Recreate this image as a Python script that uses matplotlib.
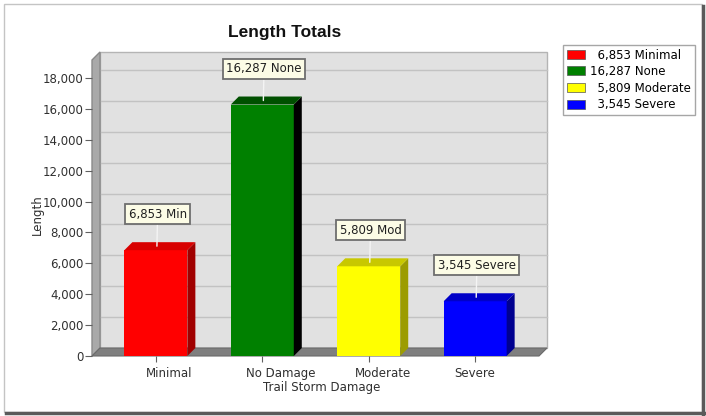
import numpy as np
import matplotlib.pyplot as plt
from matplotlib.patches import Rectangle, Polygon, Patch
from matplotlib.lines import Line2D
import matplotlib.ticker as mticker
from matplotlib.transforms import ScaledTranslation

categories = ['Minimal', 'No Damage', 'Moderate', 'Severe']
lengths = [6853, 16287, 5809, 3545]
box_labels = ['6,853 Min', '16,287 None', '5,809 Mod', '3,545 Severe']
legend_labels = ['  6,853 Minimal', '16,287 None', '  5,809 Moderate', '  3,545 Severe']
yticks = np.arange(0, 18001, 2000)

front_col = ['#ff0000', '#008000', '#ffff00', '#0000ff']
side_col = ['#a00000', '#000000', '#9c9c00', '#000090']
top_col = ['#d80000', '#005000', '#c8c800', '#0000c8']

plt.rcParams['font.family'] = ['DejaVu Sans']

W, H = 706, 416
fig = plt.figure(figsize=(W / 100, H / 100), dpi=100)

# front plane of the 3d box (pixels)
px_l, px_r, px_b, px_t = 92, 539, 356, 60
ax = fig.add_axes([px_l / W, 1 - px_b / H, (px_r - px_l) / W, (px_b - px_t) / H])
xmin, xmax = -0.6, 3.6
ymax = 19170
ax.set_xlim(xmin, xmax)
ax.set_ylim(0, ymax)

# depth of the fake 3d, in data units
d_px = 8
dx = d_px * (xmax - xmin) / (px_r - px_l)
dy = d_px * ymax / (px_b - px_t)

# back wall + grid
ax.add_patch(Rectangle((xmin + dx, dy), xmax - xmin, ymax, facecolor='#e1e1e1',
                       edgecolor='#b4b4b4', lw=1, clip_on=False, zorder=0))
for v in yticks[1:]:
    ax.plot([xmin + dx, xmax + dx], [v + dy, v + dy], color='#c2c2c2', lw=1,
            clip_on=False, zorder=0.5)

# left wall and floor
ax.add_patch(Polygon([(xmin, 0), (xmin + dx, dy), (xmin + dx, ymax + dy), (xmin, ymax)],
                     closed=True, facecolor='#a9a9a9', edgecolor='#8a8a8a', lw=1,
                     clip_on=False, zorder=1))
ax.add_patch(Polygon([(xmin, 0), (xmax, 0), (xmax + dx, dy), (xmin + dx, dy)],
                     closed=True, facecolor='#7f7f7f', edgecolor='#6a6a6a', lw=0.8,
                     clip_on=False, zorder=1))

x = np.arange(len(categories))
bw = 0.592
ax.bar(x, lengths, width=bw, color=front_col, zorder=3)
for xi, v, sc, tc in zip(x, lengths, side_col, top_col):
    r = xi + bw / 2
    l = xi - bw / 2
    ax.add_patch(Polygon([(r, 0), (r + dx, dy), (r + dx, v + dy), (r, v)],
                         closed=True, facecolor=sc, edgecolor='none', zorder=3, clip_on=False))
    ax.add_patch(Polygon([(l, v), (r, v), (r + dx, v + dy), (l + dx, v + dy)],
                         closed=True, facecolor=tc, edgecolor='none', zorder=3, clip_on=False))

# value boxes
for xi, v, t in zip(x, lengths, box_labels):
    ax.annotate(t, xy=(xi + 0.01, v + dy / 2), xytext=(0.5, 23), textcoords='offset points',
                ha='center', va='center', fontsize=8.5, color='#202020',
                bbox=dict(boxstyle='square,pad=0.3', fc='#fcfce6', ec='#6e6e6e', lw=1.3),
                arrowprops=dict(arrowstyle='-', color='#f4f4f4', lw=1, shrinkA=0, shrinkB=0),
                zorder=5, annotation_clip=False)

for s in ax.spines.values():
    s.set_visible(False)
ax.patch.set_visible(False)

ax.set_yticks(yticks)
ax.yaxis.set_major_formatter(mticker.StrMethodFormatter('{x:,.0f}'))
ax.tick_params(axis='y', length=5, color='#606060', labelsize=8.5, labelcolor='#303030', pad=1)
ax.set_xticks(x)
ax.set_xticklabels(categories)
ax.tick_params(axis='x', length=4, color='#606060', labelsize=8.5, labelcolor='#303030', pad=4)
label_shift = [13, 18, 14, 0]
for lbl, off in zip(ax.get_xticklabels(), label_shift):
    lbl.set_transform(lbl.get_transform() + ScaledTranslation(off / 100, 0, fig.dpi_scale_trans))

fig.text(285 / W, 1 - 33 / H, 'Length Totals', ha='center', va='center',
         fontsize=12.5, fontweight='bold', color='#111111', family='Liberation Sans')
fig.text(37 / W, 1 - 215 / H, 'Length', rotation=90, ha='center', va='center',
         fontsize=8.5, color='#303030')
fig.text(322 / W, 1 - 388 / H, 'Trail Storm Damage', ha='center', va='center',
         fontsize=8.5, color='#303030')

handles = [Patch(facecolor=c, edgecolor='#555555', lw=0.5) for c in front_col]
leg = fig.legend(handles, legend_labels, loc='upper left', bbox_to_anchor=(563 / W, 1 - 45 / H),
                 fontsize=8.5, frameon=True, fancybox=False, edgecolor='#909090',
                 handlelength=1.6, handleheight=0.8, handletextpad=0.4,
                 labelspacing=0.3, borderpad=0.3, borderaxespad=0)
leg.get_frame().set_linewidth(1)

# outer frame with shadow
fig.add_artist(Rectangle((4 / W, 4 / H), 698 / W, 408 / H, transform=fig.transFigure,
                         fill=False, ec='#c4c4c4', lw=1))
fig.add_artist(Line2D([703 / W, 703 / W], [2 / H, 410 / H], transform=fig.transFigure,
                      color='#5a5a5a', lw=2.5))
fig.add_artist(Line2D([6 / W, 704 / W], [3 / H, 3 / H], transform=fig.transFigure,
                      color='#5a5a5a', lw=2.5))

fig.savefig('out.png', dpi=100)
